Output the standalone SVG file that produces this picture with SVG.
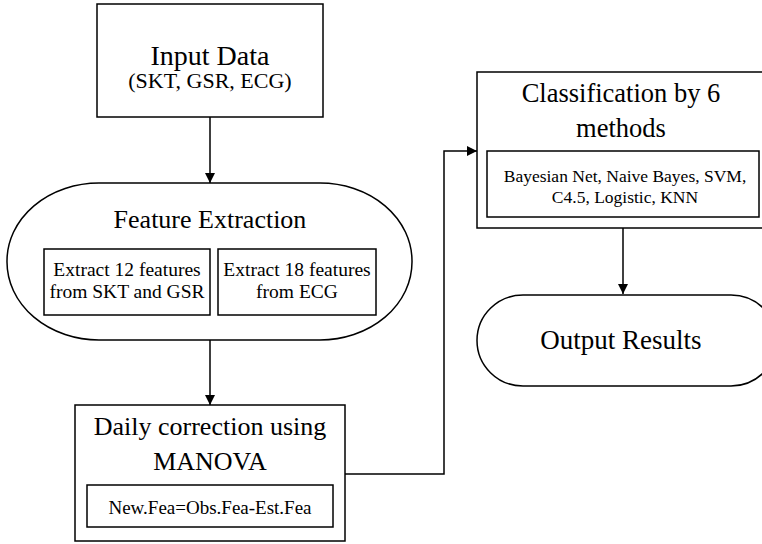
<svg xmlns="http://www.w3.org/2000/svg" width="762" height="544" viewBox="0 0 762 544">
<defs>
<marker id="arr" viewBox="0 0 10 10" refX="10" refY="5" markerWidth="10" markerHeight="10" markerUnits="userSpaceOnUse" orient="auto">
<path d="M0,0 L10,5 L0,10 z" fill="#000"/>
</marker>
<style>
.box{fill:#fff;stroke:#000;stroke-width:1.5}
.ln{fill:none;stroke:#000;stroke-width:1.5}
text{font-family:"Liberation Serif","Times New Roman",serif;fill:#000;text-anchor:middle}
.big{font-size:26px}
.mid{font-size:19.5px}
</style>
</defs>
<rect width="762" height="544" fill="#fff"/>
<g id="connectors">
<path class="ln" d="M210,117 V183" marker-end="url(#arr)"/>
<path class="ln" d="M210,340 V405" marker-end="url(#arr)"/>
<path class="ln" d="M345,474 H444 V151 H477" marker-end="url(#arr)"/>
<path class="ln" d="M623,228 V294" marker-end="url(#arr)"/>
</g>
<g id="input">
<rect class="box" x="97" y="4" width="226" height="113"/>
<text x="210" y="65" style="font-size:28px">Input Data</text>
<text x="210" y="88" style="font-size:22px">(SKT, GSR, ECG)</text>
</g>
<g id="feature">
<rect class="box" x="7" y="183" width="405" height="157" rx="92" ry="78"/>
<text class="big" x="210" y="228">Feature Extraction</text>
<g id="feat1">
<rect class="box" x="44" y="249" width="166" height="66"/>
<text class="mid" x="127" y="276">Extract 12 features</text>
<text class="mid" x="127" y="298">from SKT and GSR</text>
</g>
<g id="feat2">
<rect class="box" x="218" y="249" width="158" height="66"/>
<text class="mid" x="297" y="276">Extract 18 features</text>
<text class="mid" x="297" y="298">from ECG</text>
</g>
</g>
<g id="daily">
<rect class="box" x="75" y="405" width="270" height="136"/>
<text class="big" x="210" y="435">Daily correction using</text>
<text class="big" x="210" y="470">MANOVA</text>
<g id="newfea">
<rect class="box" x="87" y="485" width="246" height="42"/>
<text x="210" y="514" style="font-size:19px">New.Fea=Obs.Fea-Est.Fea</text>
</g>
</g>
<g id="classification">
<rect class="box" x="477" y="72" width="300" height="156"/>
<text x="621" y="102" style="font-size:26.5px">Classification by 6</text>
<text x="621" y="137" style="font-size:26.5px">methods</text>
<g id="methods">
<rect class="box" x="487" y="151" width="272" height="66"/>
<text x="625" y="182" style="font-size:17.5px">Bayesian Net, Naive Bayes, SVM,</text>
<text x="625" y="203" style="font-size:17.5px">C4.5, Logistic, KNN</text>
</g>
</g>
<g id="output">
<rect class="box" x="477" y="295" width="300" height="91" rx="46" ry="45.5"/>
<text x="621" y="349" style="font-size:27px">Output Results</text>
</g>
</svg>
